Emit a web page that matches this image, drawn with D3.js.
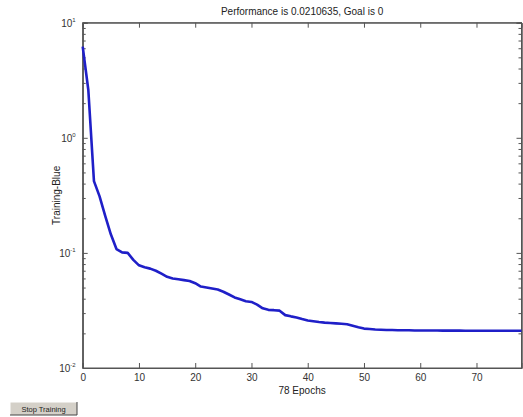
<!DOCTYPE html>
<html><head><meta charset="utf-8">
<script src="https://cdn.jsdelivr.net/npm/d3@7"></script>
<style>html,body{margin:0;padding:0;background:#fff;}svg{display:block;}</style>
</head><body>
<svg id="chart" width="523" height="417"></svg>
<script>
// ---- data ----
const epochs = d3.range(0, 79);
const performance = [
  6.2, 2.6, 0.42, 0.31, 0.21, 0.145, 0.108, 0.101, 0.100, 0.087,
  0.078, 0.075, 0.073, 0.070, 0.066, 0.062, 0.060, 0.059, 0.058, 0.057,
  0.0545, 0.051, 0.050, 0.049, 0.048, 0.046, 0.0435, 0.041, 0.0395, 0.038,
  0.0375, 0.0355, 0.033, 0.032, 0.0318, 0.0315, 0.0288, 0.0281, 0.0275, 0.0266,
  0.0259, 0.0255, 0.0251, 0.0248, 0.0246, 0.0244, 0.0242, 0.0240, 0.0233, 0.0226,
  0.0220, 0.0218, 0.0216, 0.0215, 0.0214, 0.0214, 0.0213, 0.0213, 0.0213, 0.0212,
  0.0212, 0.02118, 0.02116, 0.02115, 0.02114, 0.02113, 0.02112, 0.02111, 0.0211, 0.0211,
  0.02109, 0.02109, 0.02108, 0.02108, 0.02107, 0.02107, 0.02107, 0.02106, 0.0210635
];
const xTicks = [0, 10, 20, 30, 40, 50, 60, 70];
const yMajor = [0.01, 0.1, 1, 10];
const yExp = ["-2", "-1", "0", "1"];
const titleText = "Performance is 0.0210635, Goal is 0";
const xLabel = "78 Epochs";
const yLabel = "Training-Blue";
const buttonLabel = "Stop Training";

// ---- layout ----
const L = 82.7, R = 521.5, T = 22.7, B = 368;
const svg = d3.select("#chart");
const font = "Arial, 'Liberation Sans', sans-serif";
const x = d3.scaleLinear().domain([0, 78]).range([L, R]);
const y = d3.scaleLog().domain([0.01, 10]).range([B, T]);

// minor ticks for log axis
const yMinor = [];
[0.01, 0.1, 1].forEach(d => { for (let k = 2; k <= 9; k++) yMinor.push(d * k); });

const axisColor = "#555";

// box
svg.append("rect").attr("x", L).attr("y", T).attr("width", R - L).attr("height", B - T)
  .attr("fill", "#fff").attr("stroke", axisColor).attr("stroke-width", 1);

// axes via d3
const gB = svg.append("g").attr("transform", `translate(0,${B})`)
  .call(d3.axisBottom(x).tickValues(xTicks).tickSize(-5).tickPadding(4).tickFormat(d3.format("d")));
const gT = svg.append("g").attr("transform", `translate(0,${T})`)
  .call(d3.axisTop(x).tickValues(xTicks).tickSize(-5).tickFormat(""));
const gL = svg.append("g").attr("transform", `translate(${L},0)`)
  .call(d3.axisLeft(y).tickValues(yMajor).tickSize(-5).tickFormat(""));
const gLm = svg.append("g").attr("transform", `translate(${L},0)`)
  .call(d3.axisLeft(y).tickValues(yMinor).tickSize(-3).tickFormat(""));
const gR = svg.append("g").attr("transform", `translate(${R},0)`)
  .call(d3.axisRight(y).tickValues(yMajor).tickSize(-5).tickFormat(""));
const gRm = svg.append("g").attr("transform", `translate(${R},0)`)
  .call(d3.axisRight(y).tickValues(yMinor).tickSize(-3).tickFormat(""));
[gB, gT, gL, gLm, gR, gRm].forEach(g => {
  g.select(".domain").attr("stroke", axisColor);
  g.selectAll(".tick line").attr("stroke", axisColor);
  g.selectAll("text").attr("font-family", font).attr("font-size", 10).attr("fill", "#333");
});
gB.selectAll(".tick text").attr("dy", "0.9em");

// y labels with superscript
const yl = svg.append("g");
yMajor.forEach((v, i) => {
  const t = yl.append("text").attr("x", L - 7).attr("y", y(v) + 4)
    .attr("text-anchor", "end").attr("font-family", font).attr("font-size", 10).attr("fill", "#333");
  t.append("tspan").text("10");
  t.append("tspan").attr("font-size", 6).attr("dy", -5).text(yExp[i]);
});

// line
svg.append("path").datum(epochs)
  .attr("fill", "none").attr("stroke", "#1f1fc8").attr("stroke-width", 2.6)
  .attr("stroke-linejoin", "round")
  .attr("d", d3.line().x(i => x(i)).y(i => y(performance[i])));

// title / labels
svg.append("text").attr("x", (L + R) / 2).attr("y", 15).attr("text-anchor", "middle")
  .attr("font-family", font).attr("font-size", 10).attr("fill", "#222").text(titleText);
svg.append("text").attr("x", (L + R) / 2).attr("y", 394).attr("text-anchor", "middle")
  .attr("font-family", font).attr("font-size", 10).attr("fill", "#222").text(xLabel);
svg.append("text").attr("transform", `translate(60,${(T + B) / 2}) rotate(-90)`)
  .attr("text-anchor", "middle").attr("font-family", font).attr("font-size", 10).attr("fill", "#222").text(yLabel);

// button
const btn = svg.append("g").attr("transform", "translate(10,402)");
btn.append("rect").attr("width", 67).attr("height", 13).attr("fill", "#d4d0c8");
btn.append("path").attr("d", "M0,13 V0 H67").attr("fill", "none").attr("stroke", "#fff");
btn.append("path").attr("d", "M0,13 H67 V0").attr("fill", "none").attr("stroke", "#444");
btn.append("text").attr("x", 33.5).attr("y", 9.5).attr("text-anchor", "middle")
  .attr("font-family", font).attr("font-size", 7.5).attr("fill", "#222").text(buttonLabel);
</script>
</body></html>
